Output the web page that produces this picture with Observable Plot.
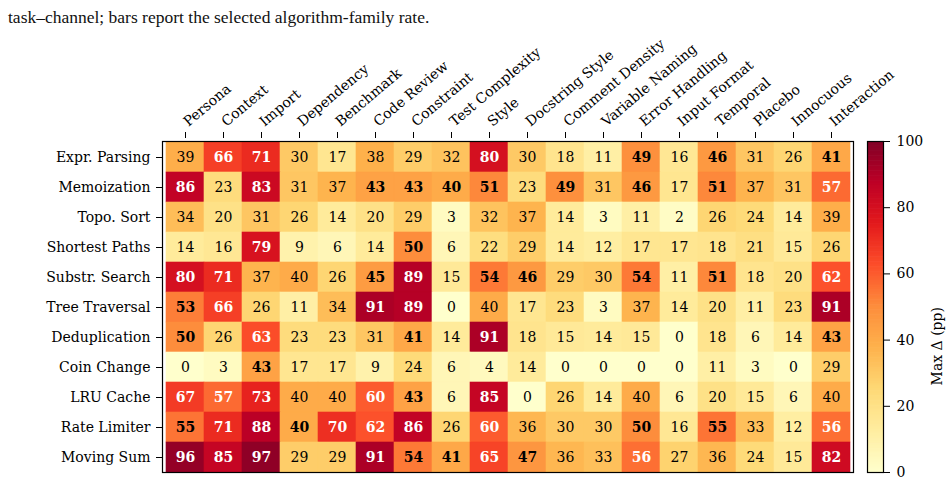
<!DOCTYPE html>
<html><head><meta charset="utf-8">
<script src="https://cdn.jsdelivr.net/npm/d3@7"></script>
<script src="https://cdn.jsdelivr.net/npm/@observablehq/plot@0.6"></script>
<style>
body{margin:0;background:#fff;}
#wrap{position:relative;width:952px;height:500px;overflow:hidden;background:#fff;}
#cap{position:absolute;left:8px;top:7px;font-family:"Liberation Serif","Times New Roman",serif;font-size:17.5px;color:#111;white-space:nowrap;}
#wrap svg{position:absolute;left:0;top:0;}
</style></head><body>
<div id="wrap"><div id="cap">task–channel; bars report the selected algorithm-family rate.</div></div>
<script>
const tasks = ["Expr. Parsing","Memoization","Topo. Sort","Shortest Paths","Substr. Search","Tree Traversal","Deduplication","Coin Change","LRU Cache","Rate Limiter","Moving Sum"];
const channels = ["Persona","Context","Import","Dependency","Benchmark","Code Review","Constraint","Test Complexity","Style","Docstring Style","Comment Density","Variable Naming","Error Handling","Input Format","Temporal","Placebo","Innocuous","Interaction"];
const values = [
  [39,66,71,30,17,38,29,32,80,30,18,11,49,16,46,31,26,41],
  [86,23,83,31,37,43,43,40,51,23,49,31,46,17,51,37,31,57],
  [34,20,31,26,14,20,29,3,32,37,14,3,11,2,26,24,14,39],
  [14,16,79,9,6,14,50,6,22,29,14,12,17,17,18,21,15,26],
  [80,71,37,40,26,45,89,15,54,46,29,30,54,11,51,18,20,62],
  [53,66,26,11,34,91,89,0,40,17,23,3,37,14,20,11,23,91],
  [50,26,63,23,23,31,41,14,91,18,15,14,15,0,18,6,14,43],
  [0,3,43,17,17,9,24,6,4,14,0,0,0,0,11,3,0,29],
  [67,57,73,40,40,60,43,6,85,0,26,14,40,6,20,15,6,40],
  [55,71,88,40,70,62,86,26,60,36,30,30,50,16,55,33,12,56],
  [96,85,97,29,29,91,54,41,65,47,36,33,56,27,36,24,15,82]
];
const boldMask = [
  [0,1,1,0,0,0,0,0,1,0,0,0,1,0,1,0,0,1],
  [1,0,1,0,0,1,1,1,1,0,1,0,1,0,1,0,0,1],
  [0,0,0,0,0,0,0,0,0,0,0,0,0,0,0,0,0,0],
  [0,0,1,0,0,0,1,0,0,0,0,0,0,0,0,0,0,0],
  [1,1,0,0,0,1,1,0,1,1,0,0,1,0,1,0,0,1],
  [1,1,0,0,0,1,1,0,0,0,0,0,0,0,0,0,0,1],
  [1,0,1,0,0,0,1,0,1,0,0,0,0,0,0,0,0,1],
  [0,0,1,0,0,0,0,0,0,0,0,0,0,0,0,0,0,0],
  [1,1,1,0,0,1,1,0,1,0,0,0,0,0,0,0,0,0],
  [1,1,1,1,1,1,1,0,1,0,0,0,1,0,1,0,0,1],
  [1,1,1,0,0,1,1,1,1,1,0,0,1,0,0,0,0,1]
];
const colorTicks = [0,20,40,60,80,100];
const colorLabel = "Max Δ (pp)";
const whiteAbove = 55;

const ylorrd = ["#ffffcc","#ffeda0","#fed976","#feb24c","#fd8d3c","#fc4e2a","#e31a1c","#bd0026","#800026"];
const color = {type:"linear", domain: ylorrd.map((_, i) => i * 100 / (ylorrd.length - 1)), range: ylorrd, interpolate: "rgb"};

const cells = [];
tasks.forEach((t, i) => channels.forEach((c, j) => cells.push({task: t, channel: c, value: values[i][j], bold: boldMask[i][j] === 1})));

const font = "'DejaVu Serif', serif";
const fs = 14;
const txt = (data, fill, weight) => Plot.text(data, {x: "channel", y: "task", text: d => String(d.value), fill, fontWeight: weight, fontSize: fs});

const main = Plot.plot({
  width: 952, height: 500,
  marginTop: 141, marginBottom: 28, marginLeft: 162, marginRight: 99,
  style: {fontFamily: font, fontSize: "14px", color: "black", background: "transparent"},
  x: {domain: channels, padding: 0, axis: null},
  y: {domain: tasks, padding: 0, axis: null},
  color,
  marks: [
    Plot.cell(cells, {x: "channel", y: "task", fill: "value", stroke: "value", strokeWidth: 0.6}),
    txt(cells.filter(d => d.value > whiteAbove), "white", "bold"),
    txt(cells.filter(d => d.value <= whiteAbove && d.bold), "black", "bold"),
    txt(cells.filter(d => d.value <= whiteAbove && !d.bold), "black", "normal"),
    Plot.frame({stroke: "black", strokeWidth: 1.2}),
    Plot.axisX({anchor: "top", tickSize: 6, tickPadding: 8, tickRotate: -40, textAnchor: "start", label: null, fontSize: fs, dx: 0, dy: -4}),
    Plot.axisY({anchor: "left", tickSize: 6, tickPadding: 6, label: null, fontSize: fs})
  ]
});

const steps = d3.range(0, 100, 0.5);
const cbar = Plot.plot({
  width: 952, height: 500,
  marginTop: 141, marginBottom: 28, marginLeft: 867, marginRight: 69,
  style: {fontFamily: font, fontSize: "14px", color: "black", background: "transparent"},
  x: {domain: [0, 1], axis: null},
  y: {domain: [0, 100], axis: null},
  color,
  marks: [
    Plot.rect(steps, {x1: 0, x2: 1, y1: d => d, y2: d => Math.min(100, d + 0.7), fill: d => d + 0.25}),
    Plot.frame({stroke: "black", strokeWidth: 1.2}),
    Plot.axisY({anchor: "right", ticks: colorTicks, tickSize: 6, tickPadding: 7, label: null, fontSize: fs}),
    Plot.text([colorLabel], {text: d => d, frameAnchor: "right", rotate: -90, dx: 54, fontSize: fs})
  ]
});

const wrap = document.getElementById("wrap");
wrap.appendChild(main);
wrap.appendChild(cbar);
</script>
</body></html>
